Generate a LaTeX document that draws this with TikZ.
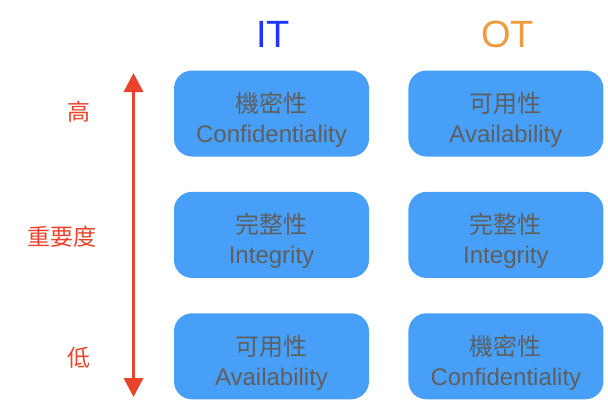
\documentclass[tikz,border=0pt]{standalone}
\usepackage{fontspec}
\setmainfont{Liberation Sans}
\newfontfamily\cjkfont{Noto Sans CJK TC}
\usetikzlibrary{arrows.meta,positioning}
\definecolor{boxblue}{HTML}{479FF8}
\definecolor{textgray}{HTML}{5F5F5F}
\definecolor{itblue}{HTML}{1B35FB}
\definecolor{otorange}{HTML}{F19A3E}
\definecolor{arrowred}{HTML}{E9432B}

\begin{document}
\begin{tikzpicture}[x=1pt,y=-1pt,
  secbox/.style={fill=boxblue,rounded corners=18pt,minimum width=195pt,
                 minimum height=86pt,inner sep=0pt,align=center,text=textgray,
                 text height=63pt,font=\fontsize{24}{30}\selectfont},
  colhead/.style={font=\fontsize{38}{40}\selectfont,anchor=base},
  level/.style={text=arrowred,font=\cjkfont\fontsize{23}{26}\selectfont}]
\useasboundingbox (0,0) rectangle (608,402);
% IT column
\node[secbox] (it-conf) at (271.5,113.5) {{\cjkfont 機密性}\\Confidentiality};
\node[secbox,below=35pt of it-conf] (it-int) {{\cjkfont 完整性}\\Integrity};
\node[secbox,below=35pt of it-int] (it-avail) {{\cjkfont 可用性}\\Availability};
% OT column
\node[secbox,right=39pt of it-conf] (ot-avail) {{\cjkfont 可用性}\\Availability};
\node[secbox,right=39pt of it-int] (ot-int) {{\cjkfont 完整性}\\Integrity};
\node[secbox,right=39pt of it-avail] (ot-conf) {{\cjkfont 機密性}\\Confidentiality};
% headers
\node[colhead,text=itblue] (it-head) at (273,47) {IT};
\node[colhead,text=otorange] (ot-head) at (507.5,47) {OT};
% importance axis
\coordinate (axis-top) at (133.5,73);
\coordinate (axis-bot) at (133.5,397);
\draw[arrowred,line width=3.5pt,{Triangle[length=19pt,width=19pt]}-{Triangle[length=19pt,width=19pt]}]
  (axis-top) -- (axis-bot);
\node[level] (lvl-high) at (79,112) {高};
\node[level] (lvl-mid) at (62,237) {重要度};
\node[level] (lvl-low) at (79,358) {低};
\end{tikzpicture}
\end{document}
